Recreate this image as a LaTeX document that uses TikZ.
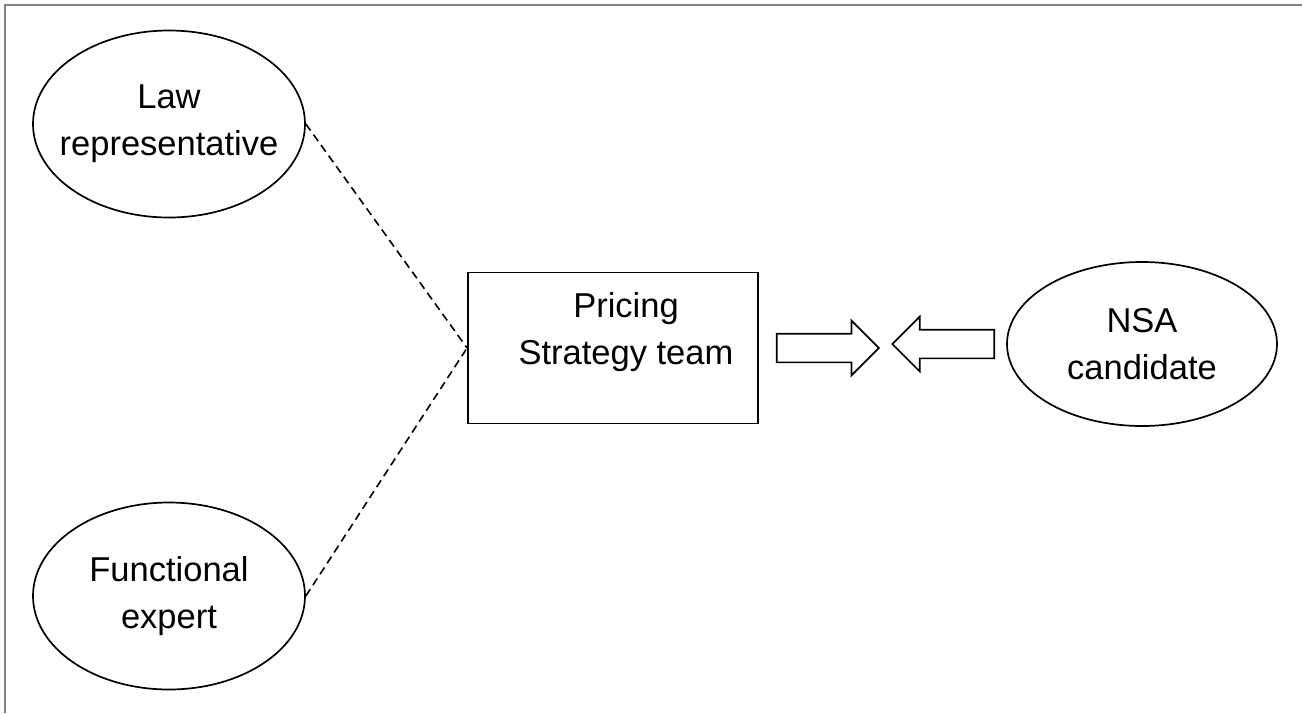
\documentclass[tikz,border=0pt]{standalone}
\usepackage{fontspec}
\setmainfont{Liberation Sans}
\usepackage{tikz}
\usetikzlibrary{shapes.geometric,shapes.arrows,positioning}
\tikzstyle{party}=[draw,ellipse,line width=1.7pt,inner sep=-22pt,minimum width=272pt,minimum height=187pt,align=center]
\tikzstyle{teambox}=[draw,rectangle,line width=1.9pt,minimum width=290pt,minimum height=151pt,align=center,text depth=39pt]
\tikzstyle{blockarrow}=[draw,single arrow,line width=1.7pt,inner sep=0pt,text height=13.5pt,text depth=13.5pt,minimum height=102pt,single arrow head extend=13pt]
\tikzstyle{link}=[line width=1.6pt,dash pattern=on 8pt off 5pt]

\begin{document}
\begin{tikzpicture}[x=1pt,y=-1pt,font=\fontsize{34.5}{47}\selectfont]
\useasboundingbox (0,0) rectangle (1302,713);
\draw [gray,line width=2pt] (5,713) -- (5,5) -- (1302,5);
\node [party] (law) at (169,124) {Law\\representative};
\node [party] (expert) at (169,596) {Functional\\expert};
\node [teambox] (team) at (613,348) {\hspace*{26pt}Pricing\\\hspace*{26pt}Strategy team};
\node [party, minimum width=270pt, minimum height=164pt] (nsa) at (1142,344) {NSA\\candidate};
\node [blockarrow, right=17pt of team] (toteam) {};
\node [blockarrow, shape border rotate=180, left=11pt of nsa] (tonsa) {};
\draw [link] (law.east) -- (team.west);
\draw [link] (expert.east) -- (team.west);
\end{tikzpicture}
\end{document}
